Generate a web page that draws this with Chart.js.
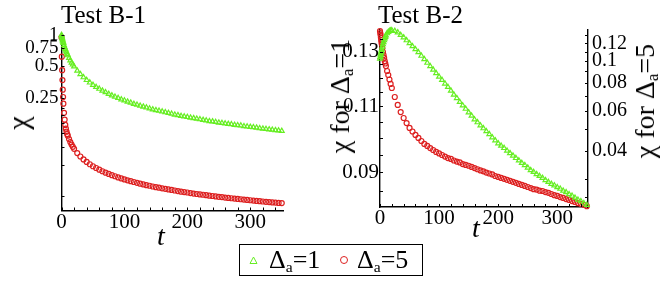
<!DOCTYPE html>
<html lang="en">
<head>
<meta charset="UTF-8">
<title>Test B-1 / Test B-2</title>
<script src="https://cdn.jsdelivr.net/npm/chart.js"></script>
<style>
  body { margin: 0; width: 664px; height: 281px; background: #fff; position: relative; overflow: hidden;
         font-family: "Liberation Serif", "Times New Roman", serif; color: #000; }
  canvas { position: absolute; top: 0; }
  .txt { position: absolute; line-height: 1; white-space: nowrap; }
  .rot { position: absolute; line-height: 1; white-space: nowrap; transform: translate(-50%, -50%) rotate(-90deg); }
  sub { font-size: 60%; vertical-align: -0.25em; line-height: 0; }
  #legend { position: absolute; left: 239px; top: 244px; width: 182px; height: 30px; border: 1.5px solid #000; }
</style>
</head>
<body>
  <canvas id="chartB1" width="320" height="240" style="left:0"></canvas>
  <canvas id="chartB2" width="334" height="240" style="left:330px"></canvas>

  <div class="txt" style="left:61px; top:1.5px; font-size:25px">Test B-1</div>
  <div class="txt" style="left:378px; top:1.5px; font-size:25px">Test B-2</div>

  <div class="rot" style="left:18px; top:123px; font-size:30px">χ</div>
  <div class="rot" style="left:340px; top:96px; font-size:28px">χ for Δ<sub>a</sub>=1</div>
  <div class="rot" style="left:645px; top:101px; font-size:28px">χ for Δ<sub>a</sub>=5</div>

  <div class="txt" style="left:157px; top:222px; font-size:28px; font-style:italic">t</div>
  <div class="txt" style="left:472px; top:214px; font-size:28px; font-style:italic">t</div>

  <div id="legend"></div>
  <svg style="position:absolute; left:249px; top:256px" width="9" height="9">
    <polygon points="4.5,1 8,7.5 1,7.5" fill="none" stroke="#66ee22" stroke-width="1"/>
  </svg>
  <div class="txt" style="left:269px; top:246.5px; font-size:26px">Δ<sub>a</sub>=1</div>
  <svg style="position:absolute; left:339px; top:255px" width="10" height="10">
    <circle cx="5" cy="5" r="3.5" fill="none" stroke="#dd2020" stroke-width="1"/>
  </svg>
  <div class="txt" style="left:357px; top:246.5px; font-size:26px">Δ<sub>a</sub>=5</div>

<script>
// time samples (same for both tests)
const times = [0, 0.5, 1, 1.5, 2, 2.5, 3, 4, 5, 6, 7, 8, 9, 10, 12, 14, 16, 18, 20,
  25, 30, 35, 40, 45, 50, 55, 60, 65, 70, 75, 80, 85, 90, 95, 100, 105, 110, 115, 120, 125,
  130, 135, 140, 145, 150, 155, 160, 165, 170, 175, 180, 185, 190, 195, 200, 205, 210, 215, 220, 225,
  230, 235, 240, 245, 250, 255, 260, 265, 270, 275, 280, 285, 290, 295, 300, 305, 310, 315, 320, 325,
  330, 335, 340, 345, 350];

// Test B-1
const b1Delta1 = [1.0, 0.967, 0.937, 0.909, 0.884, 0.860, 0.838, 0.798, 0.764, 0.733, 0.705, 0.681, 0.658, 0.638, 0.601, 0.570, 0.543, 0.520, 0.499,
  0.455, 0.421, 0.393, 0.370, 0.350, 0.333, 0.318, 0.305, 0.293, 0.283, 0.273, 0.264, 0.256, 0.249, 0.242, 0.236, 0.230, 0.225, 0.219, 0.215, 0.210,
  0.206, 0.202, 0.198, 0.194, 0.191, 0.188, 0.185, 0.182, 0.179, 0.176, 0.173, 0.171, 0.168, 0.166, 0.164, 0.162, 0.160, 0.158, 0.156, 0.154,
  0.152, 0.150, 0.149, 0.147, 0.145, 0.144, 0.142, 0.141, 0.140, 0.138, 0.137, 0.136, 0.134, 0.133, 0.132, 0.131, 0.130, 0.128, 0.127, 0.126,
  0.125, 0.124, 0.123, 0.122, 0.121];
const b1Delta5 = [0.95, 0.62, 0.46, 0.37, 0.30, 0.255, 0.22, 0.18, 0.155, 0.138, 0.127, 0.119, 0.113, 0.109, 0.101, 0.0947, 0.0896, 0.0853, 0.0816,
  0.0743, 0.0689, 0.0646, 0.0611, 0.0581, 0.0556, 0.0535, 0.0515, 0.0498, 0.0483, 0.0470, 0.0457, 0.0446, 0.0435, 0.0425, 0.0416, 0.0408, 0.0400, 0.0393, 0.0386, 0.0379,
  0.0373, 0.0367, 0.0362, 0.0356, 0.0351, 0.0347, 0.0342, 0.0338, 0.0334, 0.0330, 0.0326, 0.0322, 0.0318, 0.0315, 0.0312, 0.0308, 0.0305, 0.0302, 0.0299, 0.0297,
  0.0294, 0.0291, 0.0289, 0.0286, 0.0284, 0.0282, 0.0279, 0.0277, 0.0275, 0.0273, 0.0271, 0.0269, 0.0267, 0.0265, 0.0263, 0.0261, 0.0259, 0.0258, 0.0256, 0.0254,
  0.0253, 0.0251, 0.0250, 0.0248, 0.0247];

// Test B-2 (Delta_a=1 on the left axis, Delta_a=5 on the right axis)
const b2Delta1 = [0.1272, 0.1279, 0.1285, 0.1291, 0.1297, 0.1303, 0.1309, 0.1319, 0.1329, 0.1337, 0.1345, 0.1353, 0.1359, 0.1365, 0.1374, 0.1380, 0.1384, 0.1386, 0.1387,
  0.1384, 0.1378, 0.1367, 0.1357, 0.1345, 0.1333, 0.1321, 0.1309, 0.1297, 0.1283, 0.1270, 0.1256, 0.1243, 0.1230, 0.1217, 0.1204, 0.1192, 0.1179, 0.1167, 0.1154, 0.1140,
  0.1128, 0.1115, 0.1103, 0.1092, 0.1080, 0.1069, 0.1057, 0.1048, 0.1038, 0.1029, 0.1020, 0.1011, 0.1001, 0.0992, 0.0983, 0.0976, 0.0969, 0.0961, 0.0954, 0.0947,
  0.0940, 0.0933, 0.0926, 0.0920, 0.0913, 0.0906, 0.0901, 0.0895, 0.0890, 0.0885, 0.0879, 0.0874, 0.0869, 0.0865, 0.0860, 0.0856, 0.0851, 0.0847, 0.0842, 0.0838,
  0.0833, 0.0828, 0.0824, 0.0819, 0.0815];
const b2Delta5 = [0.136, 0.1333, 0.1306, 0.1273, 0.1241, 0.1216, 0.1191, 0.1144, 0.1098, 0.1065, 0.1033, 0.1001, 0.0976, 0.0951, 0.0904, 0.0868, 0.0829, 0.0792, 0.0760,
  0.0693, 0.0639, 0.0594, 0.0559, 0.0531, 0.0505, 0.0487, 0.0470, 0.0456, 0.0442, 0.0429, 0.0420, 0.0411, 0.0403, 0.0395, 0.0389, 0.0383, 0.0377, 0.0371, 0.0368, 0.0362,
  0.0358, 0.0355, 0.0349, 0.0346, 0.0343, 0.0339, 0.0335, 0.0331, 0.0327, 0.0324, 0.0320, 0.0317, 0.0314, 0.0309, 0.0306, 0.0303, 0.0300, 0.0297, 0.0294, 0.0291,
  0.0288, 0.0285, 0.0282, 0.0279, 0.0276, 0.0273, 0.0270, 0.0269, 0.0266, 0.0265, 0.0262, 0.0260, 0.0257, 0.0254, 0.0252, 0.0249, 0.0247, 0.0244, 0.0242, 0.0239,
  0.0237, 0.0234, 0.0232, 0.0230, 0.0227];

// ticks
const xLabels = [0, 100, 200, 300];
const xMarks = [0, 20, 40, 60, 80, 100, 120, 140, 160, 180, 200, 220, 240, 260, 280, 300, 320, 340];
const b1YLabels = [1, 0.75, 0.5, 0.25];
const b1YMarks = [1, 0.75, 0.5, 0.25, 0.2, 0.17, 0.145, 0.115, 0.085, 0.057, 0.029];
const b2LeftLabels = [0.13, 0.11, 0.09];
const b2LeftMarks = [0.135, 0.13, 0.125, 0.12, 0.115, 0.11, 0.105, 0.1, 0.095, 0.09, 0.085];
const b2RightLabels = [0.12, 0.1, 0.08, 0.06, 0.04];
const b2RightMarks = [0.13, 0.12, 0.11, 0.1, 0.09, 0.08, 0.07, 0.06, 0.05, 0.04, 0.03, 0.025];

const GREEN = '#66ee22';
const RED = '#dd2020';

const pts = ys => times.map((t, i) => ({ x: t, y: ys[i] }));

// small tick marks pointing into the plot, like the original
const inwardTicks = {
  id: 'inwardTicks',
  afterDraw(chart, args, opts) {
    const ctx = chart.ctx, a = chart.chartArea;
    ctx.save();
    ctx.strokeStyle = '#000';
    ctx.lineWidth = 1;
    opts.axes.forEach(ax => {
      const s = chart.scales[ax.id];
      ax.values.forEach(v => {
        const p = Math.round(s.getPixelForValue(v)) + 0.5;
        ctx.beginPath();
        if (s.isHorizontal()) { ctx.moveTo(p, a.bottom); ctx.lineTo(p, a.bottom - ax.len); }
        else if (s.position === 'left') { ctx.moveTo(a.left, p); ctx.lineTo(a.left + ax.len, p); }
        else { ctx.moveTo(a.right, p); ctx.lineTo(a.right - ax.len, p); }
        ctx.stroke();
      });
    });
    ctx.restore();
  }
};

const font = size => ({ family: '"Liberation Serif", serif', size: size, lineHeight: 1 });

function xAxis(height) {
  return {
    type: 'linear', min: 0, max: 352,
    afterBuildTicks: s => { s.ticks = xLabels.map(v => ({ value: v })); },
    afterFit: s => { s.height = height; },
    ticks: { font: font(21), color: '#000', padding: 1, maxRotation: 0, autoSkip: false },
    grid: { display: false, drawTicks: false },
    border: { color: '#000', width: 1.4 }
  };
}

function logAxis(pos, min, max, labels, width, size, pad) {
  return {
    type: 'logarithmic', position: pos, min: min, max: max,
    afterBuildTicks: s => { s.ticks = labels.map(v => ({ value: v })); },
    afterFit: s => { s.width = width; },
    ticks: { font: font(size), color: '#000', padding: pad, autoSkip: false, callback: v => String(v) },
    grid: { display: false, drawTicks: false },
    border: { color: '#000', width: 1.4 }
  };
}

const scatterSet = (label, ys, color, style, axis, r) => ({
  label: label, data: pts(ys), yAxisID: axis,
  pointStyle: style, pointRadius: r, borderWidth: 1.2,
  borderColor: color, backgroundColor: 'rgba(0,0,0,0)', showLine: false, clip: false
});

new Chart(document.getElementById('chartB1'), {
  type: 'scatter',
  data: {
    datasets: [
      scatterSet('Δa=1', b1Delta1, GREEN, 'triangle', 'y', 2.8),
      scatterSet('Δa=5', b1Delta5, RED, 'circle', 'y', 2.5)
    ]
  },
  options: {
    responsive: false, animation: false, events: [],
    layout: { padding: { left: 0, top: 34, right: 37, bottom: 0 } },
    scales: {
      x: xAxis(29.5),
      y: logAxis('left', 0.021, 1.02, b1YLabels, 61.5, 19, 3)
    },
    plugins: {
      legend: { display: false }, tooltip: { enabled: false },
      inwardTicks: { axes: [
        { id: 'x', values: xMarks, len: 3 },
        { id: 'y', values: b1YMarks, len: 3 }
      ] }
    }
  },
  plugins: [inwardTicks]
});

new Chart(document.getElementById('chartB2'), {
  type: 'scatter',
  data: {
    datasets: [
      scatterSet('Δa=1', b2Delta1, GREEN, 'triangle', 'y', 2.8),
      scatterSet('Δa=5', b2Delta5, RED, 'circle', 'y2', 2.5)
    ]
  },
  options: {
    responsive: false, animation: false, events: [],
    layout: { padding: { left: 0, top: 30, right: 0, bottom: 0 } },
    scales: {
      x: xAxis(33),
      y: logAxis('left', 0.0813, 0.1388, b2LeftLabels, 50, 21, 1),
      y2: logAxis('right', 0.0225, 0.1375, b2RightLabels, 76, 20, 4)
    },
    plugins: {
      legend: { display: false }, tooltip: { enabled: false },
      inwardTicks: { axes: [
        { id: 'x', values: xMarks, len: 3 },
        { id: 'y', values: b2LeftMarks, len: 3 },
        { id: 'y2', values: b2RightMarks, len: 3 }
      ] }
    }
  },
  plugins: [inwardTicks]
});
</script>
</body>
</html>
